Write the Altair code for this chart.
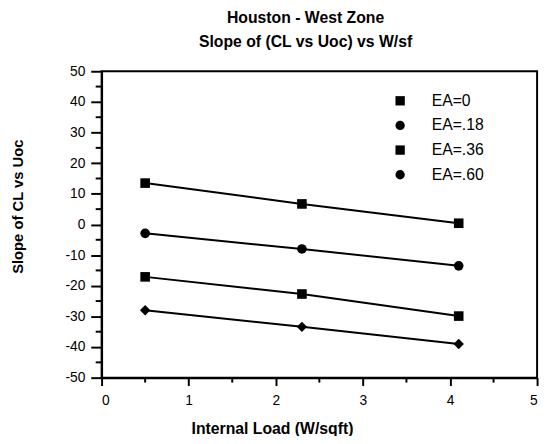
import altair as alt
import pandas as pd

# ---- data ----
x_load = [0.5, 2.3, 4.1]
series_names = ["EA=0", "EA=.18", "EA=.36", "EA=.60"]
ea_0 = [13.5, 6.7, 0.4]
ea_18 = [-2.9, -8.0, -13.5]
ea_36 = [-17.1, -22.7, -29.9]
ea_60 = [-28.0, -33.4, -39.0]
x_ticks = [0, 1, 2, 3, 4, 5]
y_ticks = [50, 40, 30, 20, 10, 0, -10, -20, -30, -40, -50]
x_minor = [0.5, 1.5, 2.5, 3.5, 4.5]
y_minor = [45, 35, 25, 15, 5, -5, -15, -25, -35, -45]

rows = []
for name, vals in zip(series_names, [ea_0, ea_18, ea_36, ea_60]):
    for xv, yv in zip(x_load, vals):
        rows.append({"series": name, "load": xv, "slope": yv})
df = pd.DataFrame(rows)

FONT = "Liberation Sans"
W, H = 442, 311

xscale = alt.Scale(domain=[0, 5], nice=False, zero=False)
yscale = alt.Scale(domain=[-50, 50], nice=False, zero=False)

x_axis = alt.Axis(
    values=x_ticks, title="Internal Load (W/sqft)", labelExpr="toString(datum.value)",
    tickSize=8, labelPadding=8, grid=False,
    titleX=173, titleY=52, titleBaseline="middle", titleAlign="center",
)
y_axis = alt.Axis(
    values=y_ticks, title="Slope of CL vs Uoc", labelExpr="toString(datum.value)",
    tickSize=11, labelPadding=6, grid=False,
    titleX=-85, titleY=137, titleBaseline="middle", titleAlign="center",
)
x_enc = alt.X("load:Q", scale=xscale, axis=x_axis)
y_enc = alt.Y("slope:Q", scale=yscale, axis=y_axis)

lines = alt.Chart(df).mark_line(color="black", strokeWidth=2).encode(
    x=x_enc, y=y_enc, detail="series:N"
)

points = alt.Chart(df).transform_filter(
    "datum.series != 'EA=.60'"
).mark_point(filled=True, color="black", size=95, opacity=1).encode(
    x=x_enc,
    y=y_enc,
    shape=alt.Shape(
        "series:N",
        scale=alt.Scale(domain=series_names, range=["square", "circle", "square", "circle"]),
        legend=alt.Legend(
            title=None, orient="none", legendX=295, legendY=22,
            labelFont=FONT, labelFontSize=16, labelColor="black",
            symbolFillColor="black", symbolStrokeColor="black", symbolSize=90,
            labelOffset=24, rowPadding=9, padding=0,
        ),
    ),
)

diamonds = alt.Chart(df).transform_filter(
    "datum.series == 'EA=.60'"
).mark_point(filled=True, color="black", size=110, opacity=1, shape="diamond").encode(
    x=x_enc,
    y=y_enc,
)

xminor = alt.Chart(pd.DataFrame({"load": x_minor})).mark_rule(color="black", strokeWidth=2).encode(
    x=x_enc, y=alt.value(H), y2=alt.value(H + 5)
)
yminor = alt.Chart(pd.DataFrame({"slope": y_minor})).mark_rule(color="black", strokeWidth=2).encode(
    y=y_enc, x=alt.value(-6), x2=alt.value(0)
)

chart = alt.layer(lines, points, diamonds, xminor, yminor).properties(
    width=W, height=H,
    padding={"left": 95, "top": 61, "right": 6, "bottom": 56},
    autosize=alt.AutoSizeParams(type="none"),
    title=alt.TitleParams(
        ["Houston - West Zone", "Slope of (CL vs Uoc) vs W/sf"],
        font=FONT, fontSize=16, fontWeight="bold", color="black",
        lineHeight=24, offset=15, dx=-14,
    ),
).configure_view(
    stroke="black", strokeWidth=2
).configure_axis(
    domainColor="black", domainWidth=2, tickColor="black", tickWidth=2,
    labelFont=FONT, labelFontSize=14, labelColor="black",
    titleFont=FONT, titleFontSize=15, titleFontWeight="bold", titleColor="black",
).configure_axisX(titleFontSize=16)

chart.save("out.html", embed_options={"renderer": "svg", "actions": False})
